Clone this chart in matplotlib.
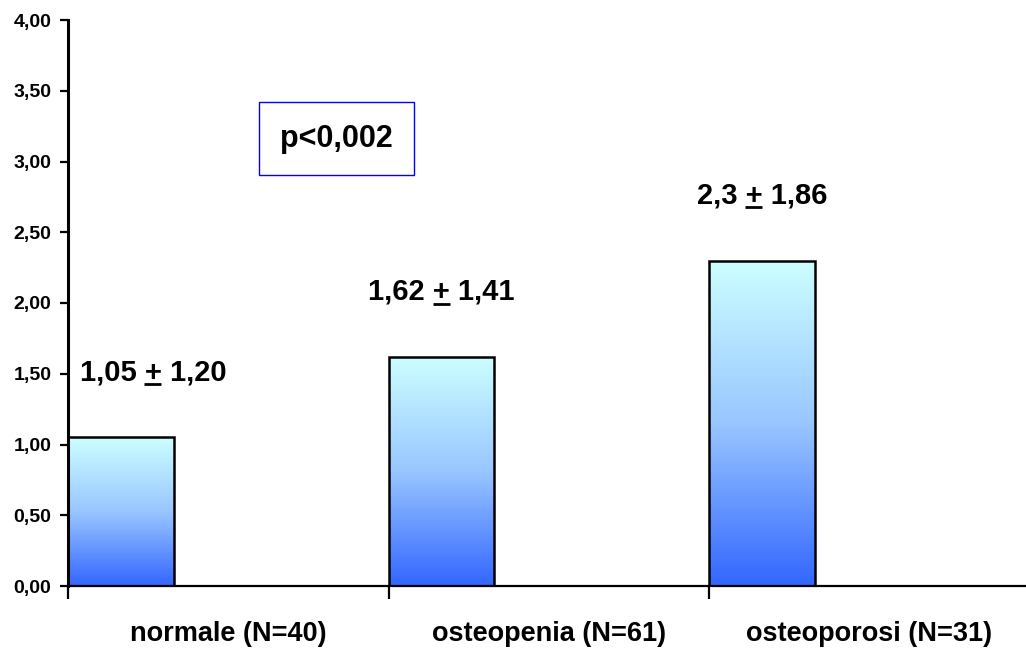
import numpy as np
import matplotlib
matplotlib.use("Agg")
import matplotlib.pyplot as plt
from matplotlib.colors import LinearSegmentedColormap
from matplotlib.ticker import FixedLocator, FuncFormatter

# group names and mean values
categories = ["normale (N=40)", "osteopenia (N=61)", "osteoporosi (N=31)"]
means = [1.05, 1.62, 2.3]
sds = ["1,20", "1,41", "1,86"]
mean_labels = ["1,05", "1,62", "2,3"]
p_text = "p<0,002"

plt.rcParams["font.family"] = ["Liberation Sans", "DejaVu Sans"]
plt.rcParams["font.weight"] = "bold"

fig = plt.figure(figsize=(10.26, 6.53), dpi=100)
ax = fig.add_axes([68 / 1026, 67 / 653, 961.5 / 1026, 566 / 653])

cmap = LinearSegmentedColormap.from_list("bar_grad", ["#3366ff", "#99c6ff", "#ccffff"])
grad = np.linspace(0, 1, 256).reshape(-1, 1)

bar_w = 0.33
bars = ax.bar(np.arange(len(means)), means, width=bar_w, align="edge",
              color="none", edgecolor="black", linewidth=1.8, zorder=3)

# vertical gradient fill inside each bar
for b in bars:
    x0, y0 = b.get_x(), b.get_y()
    im = ax.imshow(grad, cmap=cmap, origin="lower", aspect="auto",
                   extent=[x0, x0 + b.get_width(), y0, y0 + b.get_height()],
                   zorder=2)
    im.set_clip_path(b)

ax.set_xlim(0, 3)
ax.set_ylim(0, 4)

# value labels above the bars, "+" underlined as a plus-minus sign
label_fs = 21
x_shift = [0.1, 0.0, 0.0]
renderer = fig.canvas.get_renderer()
for i, (m, lab, sd) in enumerate(zip(means, mean_labels, sds)):
    full = f"{lab} + {sd}"
    xc, yb = i + bar_w / 2 + x_shift[i], m + 0.405
    t = ax.text(xc, yb, full, ha="center", va="baseline",
                fontsize=label_fs, fontweight="bold")
    bb = t.get_window_extent(renderer)
    probe = ax.text(0, 0, lab + " ", fontsize=label_fs, fontweight="bold")
    w_pre = probe.get_window_extent(renderer).width
    probe.set_text(lab + " +")
    w_plus = probe.get_window_extent(renderer).width - w_pre
    probe.remove()
    inv = ax.transData.inverted()
    x_a = inv.transform((bb.x0 + w_pre, 0))[0]
    x_b = inv.transform((bb.x0 + w_pre + w_plus, 0))[0]
    ax.plot([x_a, x_b], [yb - 0.03, yb - 0.03], color="black", linewidth=2.0,
            solid_capstyle="butt", zorder=4)

ax.text(0.8375, 3.16, p_text, ha="center", va="center", fontsize=22, fontweight="bold",
        bbox=dict(boxstyle="square,pad=0.7", facecolor="white", edgecolor="#0000ff", linewidth=1))

ax.spines["top"].set_visible(False)
ax.spines["right"].set_visible(False)
ax.spines["left"].set_linewidth(2.2)
ax.spines["bottom"].set_linewidth(1.6)

ax.set_yticks(np.arange(0, 4.01, 0.5))
ax.yaxis.set_major_formatter(FuncFormatter(lambda v, p: f"{v:.2f}".replace(".", ",")))
ax.tick_params(axis="y", length=6, width=1.6, labelsize=14, pad=6)

ax.xaxis.set_major_locator(FixedLocator([0, 1, 2, 3]))
ax.xaxis.set_minor_locator(FixedLocator([0.5, 1.5, 2.5]))
ax.xaxis.set_major_formatter(FuncFormatter(lambda v, p: ""))
ax.set_xticklabels(categories, minor=True)
ax.tick_params(axis="x", which="major", length=9, width=1.6, direction="out")
ax.tick_params(axis="x", which="minor", length=0, labelsize=19.5, pad=25)
for t in ax.get_xticklabels(minor=True):
    t.set_fontweight("bold")
for t in ax.get_yticklabels():
    t.set_fontweight("bold")

fig.savefig("out.png", dpi=100)
